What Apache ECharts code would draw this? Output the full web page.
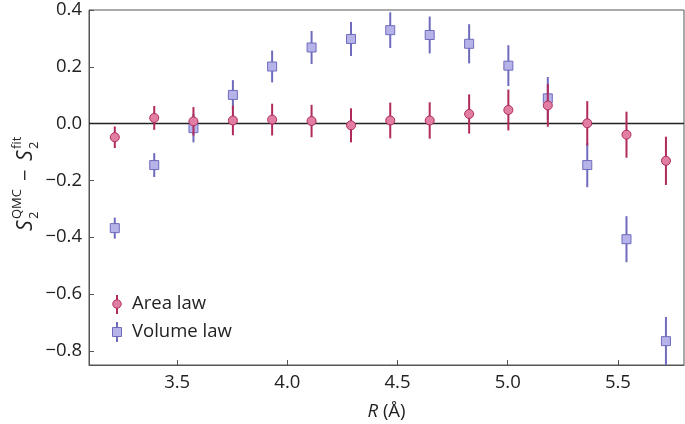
<!DOCTYPE html>
<html>
<head>
<meta charset="utf-8">
<script src="https://cdn.jsdelivr.net/npm/echarts@6/dist/echarts.min.js"></script>
<style>
html,body{margin:0;padding:0;background:#fff;}
#chart{width:685px;height:424px;}
</style>
</head>
<body>
<div id="chart"></div>
<script>
// ---- Data ----
var radii = [3.217, 3.396, 3.574, 3.753, 3.931, 4.110, 4.289, 4.467, 4.646, 4.825, 5.003, 5.182, 5.361, 5.539, 5.718];
var areaLaw = [-0.048, 0.020, 0.008, 0.011, 0.014, 0.009, -0.006, 0.011, 0.011, 0.034, 0.048, 0.064, 0.001, -0.039, -0.131];
var areaErr = [0.038, 0.042, 0.050, 0.052, 0.056, 0.057, 0.060, 0.063, 0.064, 0.069, 0.072, 0.075, 0.078, 0.081, 0.085];
var volumeLaw = [-0.368, -0.146, -0.016, 0.101, 0.201, 0.268, 0.298, 0.329, 0.312, 0.281, 0.204, 0.089, -0.146, -0.407, -0.766];
var volumeErr = [0.037, 0.042, 0.050, 0.052, 0.056, 0.058, 0.060, 0.063, 0.065, 0.069, 0.072, 0.075, 0.078, 0.081, 0.085];
var xTicks = [3.5, 4.0, 4.5, 5.0, 5.5];
var yTicks = [-0.8, -0.6, -0.4, -0.2, 0.0, 0.2, 0.4];
var seriesNames = ['Area law', 'Volume law'];

var FONT = '"Open Sans", "DejaVu Sans", sans-serif';
var FS = 18.5;
var AREA_LINE = '#b02a5b', AREA_FILL = '#e07fa3';
var VOL_LINE = '#6e6bbd', VOL_FILL = '#b6b3e8';

function pts(vals, errs) {
  return radii.map(function (r, i) { return [r, vals[i], errs[i]]; });
}
function errRender(color) {
  return function (params, api) {
    var x = api.value(0), y = api.value(1), e = api.value(2);
    var p1 = api.coord([x, y - e]);
    var p2 = api.coord([x, y + e]);
    return {
      type: 'line',
      shape: { x1: p1[0], y1: p1[1], x2: p2[0], y2: p2[1] },
      style: { stroke: color, lineWidth: 2 }
    };
  };
}
function fmt(v) { return v.toFixed(1).replace('-', '\u2212'); }

var chart = echarts.init(document.getElementById('chart'), null, { renderer: 'canvas' });

// y-axis label built from text pieces (sub/superscripts)
var yl = [
  { t: 'S', x: 0, y: 0, s: 21, it: true },
  { t: 'QMC', x: 12, y: -9, s: 13 },
  { t: '2', x: 12, y: 8, s: 13 },
  { t: '\u2212', x: 50, y: 0, s: 20 },
  { t: 'S', x: 70, y: 0, s: 21, it: true },
  { t: 'fit', x: 82, y: -9, s: 13 },
  { t: '2', x: 82, y: 8, s: 13 }
];
var ylChildren = yl.map(function (d) {
  return {
    type: 'text', x: d.x - 50, y: d.y,
    style: { text: d.t, fontSize: d.s, fontStyle: d.it ? 'italic' : 'normal', fontFamily: FONT,
      fill: '#222', textVerticalAlign: 'middle', textAlign: 'left' }
  };
});

var option = {
  backgroundColor: '#fff',
  animation: false,
  grid: { left: 89, right: 1, top: 10, bottom: 59, show: true, borderColor: '#555', borderWidth: 1,
    containLabel: false, outerBoundsMode: 'none' },
  xAxis: {
    type: 'value', min: 3.1, max: 5.8,
    name: '{i|R} (\u00c5)', nameLocation: 'middle', nameGap: 37,
    nameTextStyle: { fontFamily: FONT, fontSize: FS, color: '#222',
      rich: { i: { fontStyle: 'italic', fontFamily: FONT, fontSize: FS, color: '#222' } } },
    axisLine: { onZero: false, lineStyle: { color: '#555', width: 1 } },
    axisTick: { inside: true, length: 5, customValues: xTicks, lineStyle: { color: '#555' } },
    axisLabel: { customValues: xTicks, formatter: fmt, fontFamily: FONT, fontSize: FS, color: '#222', margin: 8 },
    splitLine: { show: false }
  },
  yAxis: {
    type: 'value', min: -0.85, max: 0.4,
    axisLine: { show: true, onZero: false, lineStyle: { color: '#555', width: 1 } },
    axisTick: { show: true, inside: true, length: 5, customValues: yTicks, lineStyle: { color: '#555' } },
    axisLabel: { customValues: yTicks, formatter: fmt, fontFamily: FONT, fontSize: FS, color: '#222', margin: 7 },
    splitLine: { show: false }
  },
  series: [
    {
      type: 'line', data: [[3.1, 0], [5.8, 0]], symbol: 'none', silent: true,
      lineStyle: { color: '#222', width: 1.5 }, z: 1
    },
    {
      name: seriesNames[1] + ' err', type: 'custom', data: pts(volumeLaw, volumeErr),
      renderItem: errRender(VOL_LINE), clip: true, z: 2
    },
    {
      name: seriesNames[1], type: 'scatter', data: pts(volumeLaw, volumeErr), symbol: 'rect', symbolSize: 9,
      itemStyle: { color: VOL_FILL, borderColor: VOL_LINE, borderWidth: 1, opacity: 1 }, z: 3
    },
    {
      name: seriesNames[0] + ' err', type: 'custom', data: pts(areaLaw, areaErr),
      renderItem: errRender(AREA_LINE), clip: true, z: 4
    },
    {
      name: seriesNames[0], type: 'scatter', data: pts(areaLaw, areaErr), symbol: 'circle', symbolSize: 9,
      itemStyle: { color: AREA_FILL, borderColor: AREA_LINE, borderWidth: 1, opacity: 1 }, z: 5
    }
  ],
  graphic: [
    { type: 'group', x: 26, y: 181, rotation: Math.PI / 2, children: ylChildren },
    // legend
    { type: 'line', shape: { x1: 117, y1: 295, x2: 117, y2: 314 }, style: { stroke: AREA_LINE, lineWidth: 2 } },
    { type: 'circle', shape: { cx: 117, cy: 304, r: 4.2 }, style: { fill: AREA_FILL, stroke: AREA_LINE, lineWidth: 1 } },
    { type: 'text', x: 132, y: 304, style: { text: seriesNames[0], fontFamily: FONT, fontSize: FS, fill: '#222', textVerticalAlign: 'middle' } },
    { type: 'line', shape: { x1: 117, y1: 322, x2: 117, y2: 342 }, style: { stroke: VOL_LINE, lineWidth: 2 } },
    { type: 'rect', shape: { x: 112.5, y: 327.5, width: 9, height: 9 }, style: { fill: VOL_FILL, stroke: VOL_LINE, lineWidth: 1 } },
    { type: 'text', x: 132, y: 332, style: { text: seriesNames[1], fontFamily: FONT, fontSize: FS, fill: '#222', textVerticalAlign: 'middle' } }
  ]
};
chart.setOption(option);
</script>
</body>
</html>
